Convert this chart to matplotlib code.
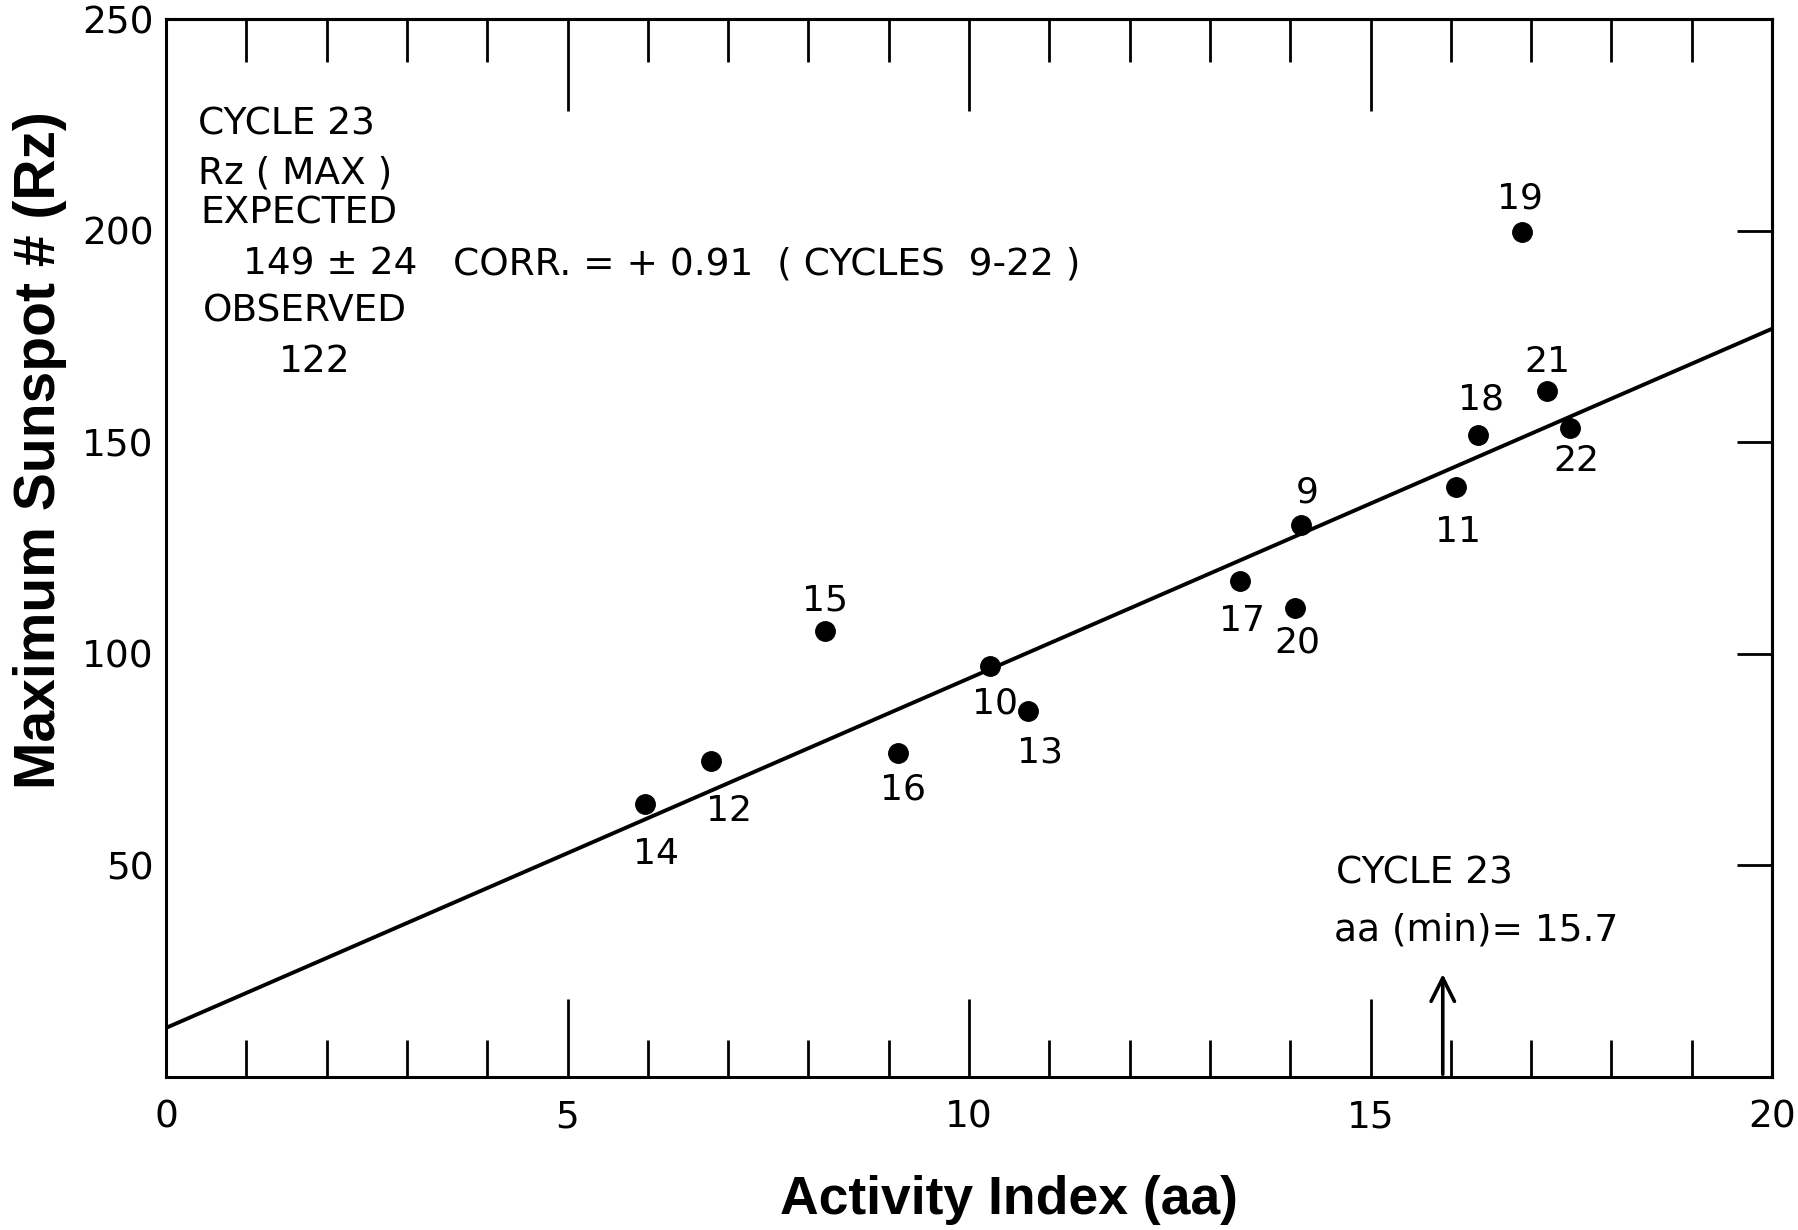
import numpy as np
import matplotlib
matplotlib.use("Agg")
import matplotlib.pyplot as plt
from matplotlib import font_manager

# solar cycle number, geomagnetic aa index at minimum, max sunspot number
cycles = [9, 10, 11, 12, 13, 14, 15, 16, 17, 18, 19, 20, 21, 22]
aa_min = [14.14, 10.26, 16.06, 6.79, 10.74, 5.96, 8.21, 9.11, 13.37, 16.34, 16.89, 14.06, 17.20, 17.49]
rz_max = [130.5, 97.0, 139.4, 74.7, 86.5, 64.4, 105.4, 76.5, 117.3, 151.8, 199.7, 110.8, 162.0, 153.4]

# regression line
fit_intercept = 11.6
fit_slope = 8.26

# predicted cycle 23
aa_cycle23 = 15.9

# label offsets (points) for each cycle number
label_dx = [4, 4, 2, 13, 8, 8, 0, 4, 2, 2, -2, 2, 0, 4]
label_dy = [23, -27, -32, -36, -30, -36, 22, -26, -29, 25, 24, -25, 21, -24]

names = {f.name for f in font_manager.fontManager.ttflist}
letter_font = "DejaVu Sans"
bold_font = "Liberation Sans" if "Liberation Sans" in names else "DejaVu Sans"

W, H = 1798, 1230
fig = plt.figure(figsize=(W / 100, H / 100), dpi=100)
ax = fig.add_axes([166 / W, (H - 1077) / H, (1772 - 166) / W, (1077 - 19) / H])

ax.set_xlim(0, 20)
ax.set_ylim(0, 250)
for s in ax.spines.values():
    s.set_linewidth(2.2)

# x ticks (bottom)
ax.set_xticks([0, 5, 10, 15, 20])
ax.set_xticks(range(21), minor=True)
ax.tick_params(axis="x", which="major", direction="in", length=56, width=2, pad=16,
               labelsize=27, top=False)
ax.tick_params(axis="x", which="minor", direction="in", length=27, width=2, top=False)

# y ticks (left): labels only, one tick mark at 200
ax.set_yticks([50, 100, 150, 200, 250])
ax.set_yticks([200], minor=True)
ax.tick_params(axis="y", which="major", length=0, pad=9, labelsize=27, right=False)
ax.tick_params(axis="y", which="minor", direction="in", length=26, width=2, right=False)
for lab in ax.get_xticklabels() + ax.get_yticklabels():
    lab.set_family(letter_font)

top = ax.secondary_xaxis("top")
top.set_xticks([5, 10, 15])
top.set_xticks(range(21), minor=True)
top.tick_params(which="major", direction="in", length=66, width=2, labeltop=False)
top.tick_params(which="minor", direction="in", length=31, width=2)
top.spines["top"].set_linewidth(2.2)

right = ax.secondary_yaxis("right")
right.set_yticks([50, 100, 150, 200])
right.tick_params(which="major", direction="in", length=25, width=2, labelright=False)
right.spines["right"].set_linewidth(2.2)

# points and regression line
ax.plot(aa_min, rz_max, "o", color="black", markersize=14)
xs = np.array([0, 20])
ax.plot(xs, fit_intercept + fit_slope * xs, color="black", lw=2.8)

for c, x, y, dx, dy in zip(cycles, aa_min, rz_max, label_dx, label_dy):
    ax.annotate(str(c), (x, y), xytext=(dx, dy), textcoords="offset points",
                ha="center", va="center", fontsize=26, family=letter_font)

# text blocks
txt = dict(fontsize=27, family=letter_font, va="center", ha="left")
ax.text(0.40, 225, "CYCLE 23", **txt)
ax.text(0.40, 213.5, "Rz ( MAX )", **txt)
ax.text(0.43, 204, "EXPECTED", **txt)
ax.text(0.96, 192, "149 ± 24", **txt)
ax.text(0.46, 181, "OBSERVED", **txt)
ax.text(1.40, 169, "122", **txt)
ax.text(3.57, 192, "CORR. = + 0.91  ( CYCLES  9-22 )", **txt)
ax.text(14.57, 48.2, "CYCLE 23", **txt)
ax.text(14.54, 34.5, "aa (min)= 15.7", **txt)

ax.annotate("", xy=(aa_cycle23, 25), xytext=(aa_cycle23, 0),
            arrowprops=dict(arrowstyle="->", lw=2.6, mutation_scale=42, color="black"))

fig.text(1009 / W, 1 - 1200 / H, "Activity Index (aa)", fontsize=38.5, fontweight="bold",
         family=bold_font, ha="center", va="center")
fig.text(40 / W, 1 - 450 / H, "Maximum Sunspot # (Rz)", fontsize=41, fontweight="bold",
         family=bold_font, ha="center", va="center", rotation=90)

fig.savefig("out.png", dpi=100, facecolor="white")
